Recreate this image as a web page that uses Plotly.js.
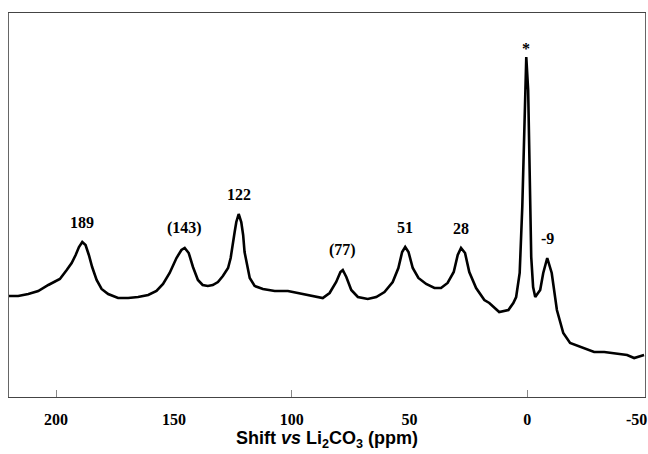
<!DOCTYPE html>
<html>
<head>
<meta charset="utf-8">
<script src="https://cdn.plot.ly/plotly-3.0.1.min.js"></script>
<style>html,body{margin:0;padding:0;background:#fff;}#chart{width:648px;height:454px;}</style>
</head>
<body>
<div id="chart"></div>
<script>
// Chemical shift (ppm) and intensity (arbitrary units)
const shiftPpm = [220.0, 216.1, 211.8, 207.6, 203.3, 200.5, 198.4, 195.5, 193.4, 191.7, 190.3, 188.9, 187.5, 186.1, 184.7, 182.8, 180.7, 177.9, 173.7, 169.4, 165.2, 160.9, 157.4, 154.6, 151.8, 148.9, 146.8, 145.4, 143.7, 141.9, 139.8, 137.8, 135.6, 133.5, 131.3, 129.2, 127.0, 125.9, 124.9, 124.2, 123.5, 122.5, 121.4, 120.6, 120.0, 118.9, 117.8, 115.7, 112.2, 107.2, 101.6, 97.4, 91.7, 86.8, 83.9, 81.1, 79.3, 78.3, 76.8, 74.7, 71.9, 67.7, 64.1, 60.6, 57.1, 54.7, 53.1, 51.8, 50.4, 48.6, 46.2, 42.9, 39.4, 36.6, 33.8, 31.2, 29.5, 28.1, 26.4, 24.6, 21.7, 18.2, 16.1, 11.9, 8.0, 5.9, 4.7, 3.2, 2.1, 1.3, 0.9, 0.4, -0.4, -1.1, -1.7, -2.5, -3.4, -5.5, -6.8, -8.5, -10.4, -12.6, -15.3, -18.2, -22.5, -28.4, -32.7, -36.9, -42.4, -45.4, -49.6];
const intensity = [101, 101, 103, 106, 112, 115, 118, 127, 134, 142, 150, 155, 152, 142, 130, 117, 108, 103, 99, 99, 100, 102, 106, 113, 124, 139, 147, 149, 144, 130, 117, 112, 111, 112, 115, 121, 129, 139, 152, 165, 175, 183, 175, 162, 145, 131, 119, 111, 108, 106, 106, 104, 101, 99, 104, 115, 125, 127, 120, 107, 100, 98, 100, 105, 115, 129, 145, 150, 145, 129, 119, 113, 109, 109, 114, 125, 142, 149, 144, 125, 109, 97, 94, 85, 87, 94, 100, 124, 190, 257, 307, 340, 307, 224, 140, 110, 100, 107, 124, 139, 124, 87, 64, 54, 50, 45, 45, 44, 42, 39, 42];

// Peak labels
const peakLabels = ["189", "(143)", "122", "(77)", "51", "28", "*", "-9"];
const peakPpm = [188.9, 145.4, 122.5, 78.3, 51.8, 28.1, 0.4, -8.5];

// Axis ticks
const labelTicks = [200, 150, 100, 50, 0];
const edgeLabel = -50;
const markTicks = [200, 100, 0];

const serif = 'Liberation Serif, Times New Roman, serif';
const sans = 'Liberation Sans, Arial, sans-serif';

function peakValue(p) {
  let best = -Infinity;
  for (let i = 0; i < shiftPpm.length; i++) {
    if (Math.abs(shiftPpm[i] - p) < 1.5 && intensity[i] > best) best = intensity[i];
  }
  return best;
}

const annotations = peakLabels.map((t, i) => ({
  x: peakPpm[i], y: peakValue(peakPpm[i]), xref: 'x', yref: 'y',
  text: '<b>' + t + '</b>', showarrow: false,
  yanchor: 'bottom', yshift: t === '*' ? -2 : 9,
  font: {family: serif, size: 16, color: '#000'}
}));
annotations.push({
  x: edgeLabel, y: 0, xref: 'x', yref: 'paper', text: '<b>' + edgeLabel + '</b>',
  showarrow: false, xanchor: 'right', yanchor: 'middle', xshift: 4, yshift: -22,
  font: {family: serif, size: 16, color: '#000'}
});

const traces = [
  {x: shiftPpm, y: intensity, type: 'scatter', mode: 'lines',
   line: {color: '#000', width: 2.6}, hoverinfo: 'skip', xaxis: 'x', yaxis: 'y'},
  {x: shiftPpm, y: intensity, type: 'scatter', mode: 'lines',
   line: {color: 'rgba(0,0,0,0)', width: 0}, hoverinfo: 'skip', xaxis: 'x2', yaxis: 'y'}
];

const layout = {
  width: 648, height: 454,
  margin: {l: 9, r: 3, t: 13, b: 57},
  paper_bgcolor: '#fff', plot_bgcolor: '#fff',
  font: {family: serif, color: '#000'},
  showlegend: false,
  xaxis: {
    range: [220, -50], tickmode: 'array', tickvals: markTicks,
    ticks: 'inside', ticklen: 7, tickcolor: '#888', tickwidth: 1,
    showticklabels: false, showgrid: false, zeroline: false,
    showline: true, linecolor: '#444', linewidth: 1, mirror: true,
    title: {text: '<b>Shift <i>vs</i> Li<sub>2</sub>CO<sub>3</sub> (ppm)</b>',
      font: {family: sans, size: 18, color: '#000'}, standoff: 34}
  },
  xaxis2: {
    overlaying: 'x', anchor: 'y', side: 'bottom',
    range: [220, -50], tickmode: 'array', tickvals: labelTicks,
    ticktext: labelTicks.map(v => '<b>' + v + '</b>'),
    ticks: '', showgrid: false, zeroline: false, showline: false,
    tickfont: {family: serif, size: 16, color: '#000'},
    ticklabelstandoff: 11
  },
  yaxis: {
    range: [0, 384], showticklabels: false, ticks: '', showgrid: false, zeroline: false,
    showline: true, linecolor: '#666', linewidth: 1, mirror: true
  },
  annotations: annotations
};

Plotly.newPlot('chart', traces, layout, {staticPlot: true, displayModeBar: false});
</script>
</body>
</html>
